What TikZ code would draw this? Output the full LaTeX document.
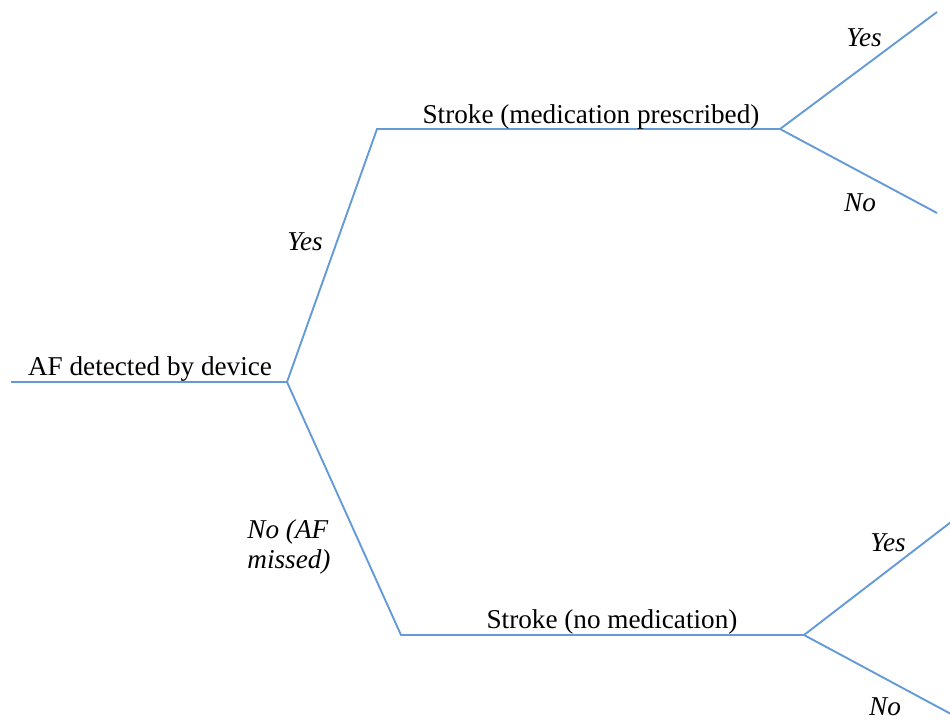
\documentclass[tikz,border=0pt]{standalone}
\usepackage{fontspec}
\setmainfont{Liberation Serif}
\definecolor{branch}{RGB}{100,155,215}
\begin{document}
\begin{tikzpicture}[x=1pt,y=-1pt,
  br/.style={draw=branch,line width=1.9pt},
  lbl/.style={font=\fontsize{27.2}{30}\selectfont,inner sep=0pt,anchor=base},
  ilbl/.style={font=\fontsize{27.2}{30}\selectfont\itshape,inner sep=0pt}]
\useasboundingbox (0,0) rectangle (950,720);
\coordinate (r0) at (11,382);
\coordinate (j0) at (287,382);
\coordinate (u1) at (377,129);
\coordinate (u2) at (780,129);
\coordinate (uy) at (937,12);
\coordinate (un) at (937,213);
\coordinate (l1) at (401,635);
\coordinate (l2) at (804,635);
\coordinate (ly) at (951,522);
\coordinate (ln) at (951,714);
\draw[br] (r0) -- (j0);
\draw[br] (j0) -- (u1) -- (u2);
\draw[br] (u2) -- (uy);
\draw[br] (u2) -- (un);
\draw[br] (j0) -- (l1) -- (l2);
\draw[br] (l2) -- (ly);
\draw[br] (l2) -- (ln);
\node[lbl] (t0) at (150,375) {AF detected by device};
\node[lbl] (t1) at (591,123) {Stroke (medication prescribed)};
\node[lbl] (t2) at (612,628) {Stroke (no medication)};
\node[ilbl] (y0) at (305,242) {Yes};
\node[ilbl,align=left] (n0) at (289,547) {No (AF\\missed)};
\node[ilbl] (y1) at (864,38) {Yes};
\node[ilbl] (n1) at (860,203) {No};
\node[ilbl] (y2) at (888,543) {Yes};
\node[ilbl] (n2) at (885,707) {No};
\end{tikzpicture}
\end{document}
